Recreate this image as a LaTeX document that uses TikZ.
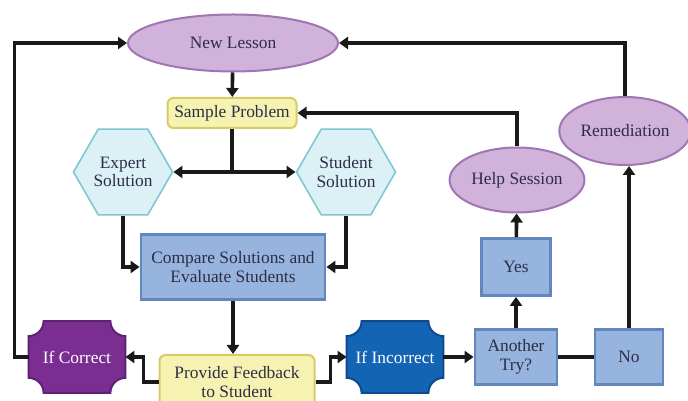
\documentclass[tikz,border=0pt]{standalone}
\usepackage{fontspec}
\setmainfont{Liberation Serif}
\usetikzlibrary{shapes.geometric,arrows.meta,backgrounds}

\definecolor{textc}{RGB}{45,45,70}
\definecolor{ovalfill}{RGB}{208,178,218}
\definecolor{ovalline}{RGB}{160,118,178}
\definecolor{notefill}{RGB}{246,242,178}
\definecolor{noteline}{RGB}{214,204,102}
\definecolor{hexfill}{RGB}{220,241,246}
\definecolor{hexline}{RGB}{126,200,208}
\definecolor{panelfill}{RGB}{150,180,222}
\definecolor{panelline}{RGB}{96,136,190}
\definecolor{rightfill}{RGB}{122,46,145}
\definecolor{rightline}{RGB}{96,32,118}
\definecolor{wrongfill}{RGB}{20,100,180}
\definecolor{wrongline}{RGB}{12,76,142}

\tikzset{
  base/.style={font=\fontsize{8.7}{9.2}\selectfont, text=textc, align=center, inner sep=1pt},
  oval/.style={base, ellipse, draw=ovalline, fill=ovalfill, line width=1pt},
  note/.style={base, rectangle, rounded corners=3pt, draw=noteline, fill=notefill, line width=1pt},
  hexa/.style={base, regular polygon, regular polygon sides=6, minimum size=49.5pt, inner sep=0pt, draw=hexline, fill=hexfill, line width=0.8pt},
  panel/.style={base, rectangle, draw=panelline, fill=panelfill, line width=1.4pt},
  notch/.style={base, rectangle, text=white, minimum width=48pt, minimum height=35.5pt},
  link/.style={line width=1.8pt, black!90},
  arr/.style={link, -{Triangle[length=4.5pt,width=6pt]}},
}

% box with concave corners, drawn behind node #1
\newcommand{\notchfill}[3]{%
  \filldraw[fill=#2, draw=#3, line width=1pt]
    ([xshift=7.5pt]#1.north west) -- ([xshift=-7.5pt]#1.north east)
    arc[start angle=180, end angle=270, radius=7.5pt]
    -- ([yshift=7.5pt]#1.south east)
    arc[start angle=90, end angle=180, radius=7.5pt]
    -- ([xshift=7.5pt]#1.south west)
    arc[start angle=0, end angle=90, radius=7.5pt]
    -- ([yshift=-7.5pt]#1.north west)
    arc[start angle=270, end angle=360, radius=7.5pt]
    -- cycle;}

\begin{document}
\begin{tikzpicture}[x=0.5pt,y=0.5pt]
    \useasboundingbox (0,0) rectangle (688,400);
    \clip (0,0) rectangle (688,400);

    \node[oval, minimum width=105pt, minimum height=28.5pt] (lesson) at (233,357) {New Lesson};
    \node[note, minimum width=64.5pt, minimum height=15pt] (sample) at (232,287) {Sample Problem};
    \node[hexa] (expert) at (123,228) {Expert\\Solution};
    \node[hexa] (student) at (346,228) {Student\\Solution};
    \node[panel, minimum width=92pt, minimum height=32.5pt] (compare) at (233,133) {Compare Solutions and\\Evaluate Students};
    \node[note, minimum width=77.5pt, minimum height=27pt] (feedback) at (237,18) {Provide Feedback\\to Student};
    \node[notch] (correct) at (77,43) {If Correct};
    \node[notch] (incorrect) at (395,43) {If Incorrect};
    \node[panel, minimum width=41pt, minimum height=27.5pt] (another) at (516,43) {Another\\Try?};
    \node[panel, minimum width=34.5pt, minimum height=28.5pt] (yes) at (516,133) {Yes};
    \node[oval, minimum width=58.5pt, minimum height=32.5pt] (help) at (517,220) {Help Session};
    \node[panel, minimum width=34pt, minimum height=27.5pt] (no) at (629,43) {No};
    \node[oval, minimum width=63pt, minimum height=34pt] (remed) at (625,269) {Remediation};

    \begin{scope}[on background layer]
    \notchfill{correct}{rightfill}{rightline}
    \notchfill{incorrect}{wrongfill}{wrongline}
    \end{scope}

    \coordinate (fork) at (sample.south |- expert.east);

    \draw[arr] (lesson) -- (sample);
    \draw[link] (sample) -- (fork);
    \draw[arr] (fork) -- (expert);
    \draw[arr] (fork) -- (student);
    \draw[arr] (expert.south) |- (compare.west);
    \draw[arr] (student.south) |- (compare.east);
    \draw[arr] (compare.south) -- (compare.south |- feedback.north);
    \draw[arr] (feedback.west) -- ++(-15,0) |- (correct.east);
    \draw[arr] (feedback.east) -- ++(15,0) |- (incorrect.west);
    \draw[arr] (correct.west) -- ++(-14,0) |- (lesson.west);
    \draw[arr] (incorrect) -- (another);
    \draw[arr] (another) -- (yes);
    \draw[arr] (yes) -- (help);
    \draw[arr] (help.north) |- (sample.east);
    \draw[link] (another) -- (no);
    \draw[arr] (no.north) -- (no.north |- remed.south);
    \draw[arr] (remed.north) |- (lesson.east);
\end{tikzpicture}
\end{document}
